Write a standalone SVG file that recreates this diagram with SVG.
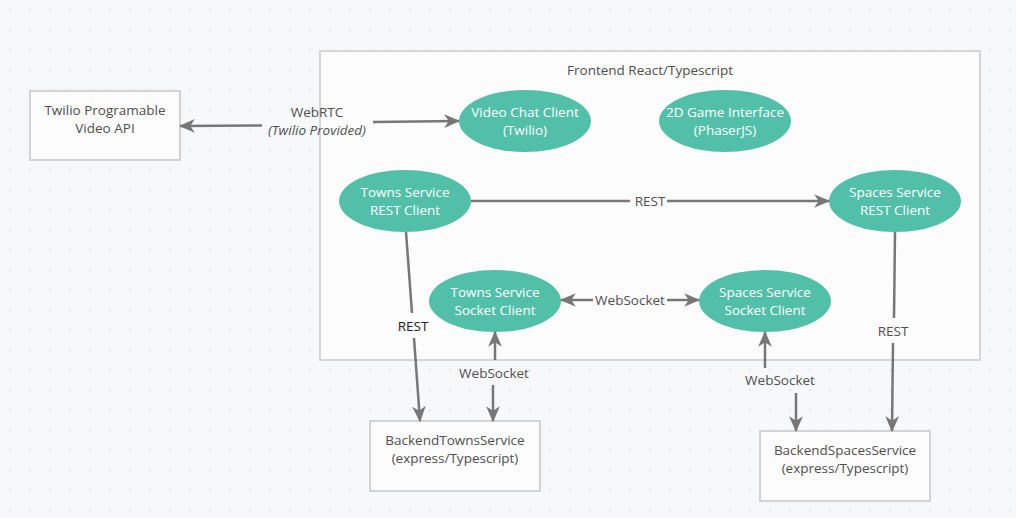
<svg xmlns="http://www.w3.org/2000/svg" width="1016" height="518" viewBox="0 0 1016 518">
<defs>
<pattern id="dots" width="20" height="20" patternUnits="userSpaceOnUse">
<circle cx="10" cy="10" r="1" fill="#dcdfe5"/>
</pattern>
<marker id="arr" markerUnits="userSpaceOnUse" markerWidth="16" markerHeight="16" viewBox="0 0 14 14" refX="13" refY="7" orient="auto-start-reverse">
<path d="M0,1 L14,7 L0,13 L4,7 z" fill="#777"/>
</marker>
<style>
.bg{fill:#f7f8fa}
.frame{fill:#fdfcfc;stroke:#d6d6d6;stroke-width:2}
.box{fill:#fdfcfc;stroke:#d3d3d3;stroke-width:2}
.ell{fill:#52bfa8}
.t{font-family:"Open Sans","Noto Sans",sans-serif;font-size:13.5px;fill:#4f4f4f;text-anchor:middle}
.w{fill:#ffffff}
.it{font-style:italic}
.dark{fill:#222}
.c{stroke:#777;stroke-width:2.5;fill:none}
</style>
</defs>
<rect class="bg" x="0" y="0" width="1016" height="518"/>
<rect x="0" y="0" width="1016" height="518" fill="url(#dots)"/>

<g id="frontend">
<rect class="frame" x="320" y="51" width="660" height="309"/>
<text class="t" x="650" y="75">Frontend React/Typescript</text>
</g>

<g id="twilio">
<rect class="box" x="30" y="91" width="150" height="69"/>
<text class="t" x="105" y="115">Twilio Programable</text>
<text class="t" x="105" y="133">Video API</text>
</g>

<g id="videochat">
<ellipse class="ell" cx="525" cy="121" rx="66" ry="31"/>
<text class="t w" x="525" y="117">Video Chat Client</text>
<text class="t w" x="525" y="135">(Twilio)</text>
</g>

<g id="game">
<ellipse class="ell" cx="725" cy="121" rx="66" ry="31"/>
<text class="t w" x="725" y="117">2D Game Interface</text>
<text class="t w" x="725" y="135">(PhaserJS)</text>
</g>

<g id="townsrest">
<ellipse class="ell" cx="405" cy="201" rx="66" ry="31"/>
<text class="t w" x="405" y="197">Towns Service</text>
<text class="t w" x="405" y="215">REST Client</text>
</g>

<g id="spacesrest">
<ellipse class="ell" cx="895" cy="201" rx="66" ry="31"/>
<text class="t w" x="895" y="197">Spaces Service</text>
<text class="t w" x="895" y="215">REST Client</text>
</g>

<g id="townssocket">
<ellipse class="ell" cx="495" cy="301" rx="66" ry="31"/>
<text class="t w" x="495" y="297">Towns Service</text>
<text class="t w" x="495" y="315">Socket Client</text>
</g>

<g id="spacessocket">
<ellipse class="ell" cx="765" cy="301" rx="66" ry="31"/>
<text class="t w" x="765" y="297">Spaces Service</text>
<text class="t w" x="765" y="315">Socket Client</text>
</g>

<g id="backendtowns">
<rect class="box" x="370" y="421" width="170" height="70"/>
<text class="t" x="455" y="445">BackendTownsService</text>
<text class="t" x="455" y="463">(express/Typescript)</text>
</g>

<g id="backendspaces">
<rect class="box" x="760" y="431" width="170" height="70"/>
<text class="t" x="845" y="455">BackendSpacesService</text>
<text class="t" x="845" y="473">(express/Typescript)</text>
</g>

<g id="connectors">
<line class="c" x1="262" y1="125.5" x2="180" y2="126" marker-end="url(#arr)"/>
<line class="c" x1="373" y1="122" x2="459" y2="121" marker-end="url(#arr)"/>
<text class="t" x="317" y="117">WebRTC</text>
<text class="t it" x="317" y="135">(Twilio Provided)</text>

<line class="c" x1="471" y1="201" x2="630" y2="201"/>
<line class="c" x1="667" y1="201" x2="829" y2="201" marker-end="url(#arr)"/>
<text class="t" x="650" y="206">REST</text>

<line class="c" x1="406" y1="232" x2="412" y2="313"/>
<line class="c" x1="414" y1="338" x2="420" y2="421" marker-end="url(#arr)"/>
<text class="t dark" x="413" y="331">REST</text>

<line class="c" x1="895" y1="232" x2="894" y2="318"/>
<line class="c" x1="893" y1="343" x2="892" y2="431" marker-end="url(#arr)"/>
<text class="t" x="893" y="336">REST</text>

<line class="c" x1="593" y1="300" x2="561" y2="300" marker-end="url(#arr)"/>
<line class="c" x1="667" y1="300" x2="699" y2="300" marker-end="url(#arr)"/>
<text class="t" x="630" y="305">WebSocket</text>

<line class="c" x1="495" y1="360" x2="495" y2="332" marker-end="url(#arr)"/>
<line class="c" x1="493" y1="385" x2="493" y2="421" marker-end="url(#arr)"/>
<text class="t" x="494" y="378">WebSocket</text>

<line class="c" x1="765" y1="368" x2="765" y2="332" marker-end="url(#arr)"/>
<line class="c" x1="796" y1="393" x2="796" y2="431" marker-end="url(#arr)"/>
<text class="t" x="780" y="385">WebSocket</text>
</g>
</svg>
